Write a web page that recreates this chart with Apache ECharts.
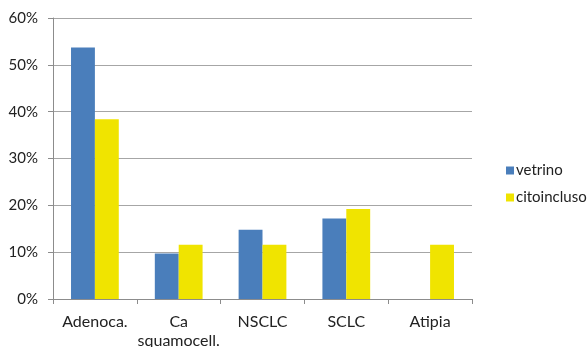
<!DOCTYPE html>
<html><head><meta charset="utf-8">
<script src="https://cdn.jsdelivr.net/npm/echarts@6/dist/echarts.min.js"></script>
<style>html,body{margin:0;padding:0;background:#fff}#c{width:587px;height:347px}</style>
</head><body><div id="c"></div>
<script>
const categories = ['Adenoca.', 'Ca\nsquamocell.', 'NSCLC', 'SCLC', 'Atipia'];
const vetrino = [53.7, 9.7, 14.8, 17.2, 0];
const citoincluso = [38.4, 11.6, 11.6, 19.2, 11.6];
const yTicks = [0, 10, 20, 30, 40, 50, 60];

const chart = echarts.init(document.getElementById('c'));
const font = 'Lato, "Open Sans", sans-serif';
chart.setOption({
  animation: false,
  textStyle: { fontFamily: font },
  grid: { left: 53, right: 115, top: 18, bottom: 48, containLabel: false, outerBoundsMode: 'none' },
  legend: {
    orient: 'vertical', left: 501, top: 158,
    itemWidth: 8, itemHeight: 8, itemGap: 12,
    icon: 'rect',
    textStyle: { fontFamily: font, fontSize: 15, lineHeight: 15, color: '#222', padding: [0, 0, 0, -3] },
    data: ['vetrino', 'citoincluso']
  },
  xAxis: {
    type: 'category', data: categories,
    axisLine: { lineStyle: { color: '#8c8c8c', width: 1 } },
    axisTick: { show: true, length: 5, lineStyle: { color: '#8c8c8c' } },
    axisLabel: { interval: 0, fontFamily: font, fontSize: 16, color: '#222', margin: 13, lineHeight: 19 }
  },
  yAxis: {
    type: 'value', min: yTicks[0], max: yTicks[yTicks.length - 1], interval: 10,
    axisLine: { show: true, lineStyle: { color: '#8c8c8c', width: 1 } },
    axisTick: { show: true, length: 5, lineStyle: { color: '#8c8c8c' } },
    splitLine: { lineStyle: { color: '#a6a6a6', width: 1 } },
    axisLabel: { fontFamily: font, fontSize: 15, color: '#222', margin: 15, formatter: v => v + '%' }
  },
  series: [
    { name: 'vetrino', type: 'bar', data: vetrino, barGap: '0%', barCategoryGap: '43%',
      itemStyle: { color: '#4a7ebb' } },
    { name: 'citoincluso', type: 'bar', data: citoincluso, barGap: '0%', barCategoryGap: '43%',
      itemStyle: { color: '#f0e400' } }
  ]
});
</script></body></html>
